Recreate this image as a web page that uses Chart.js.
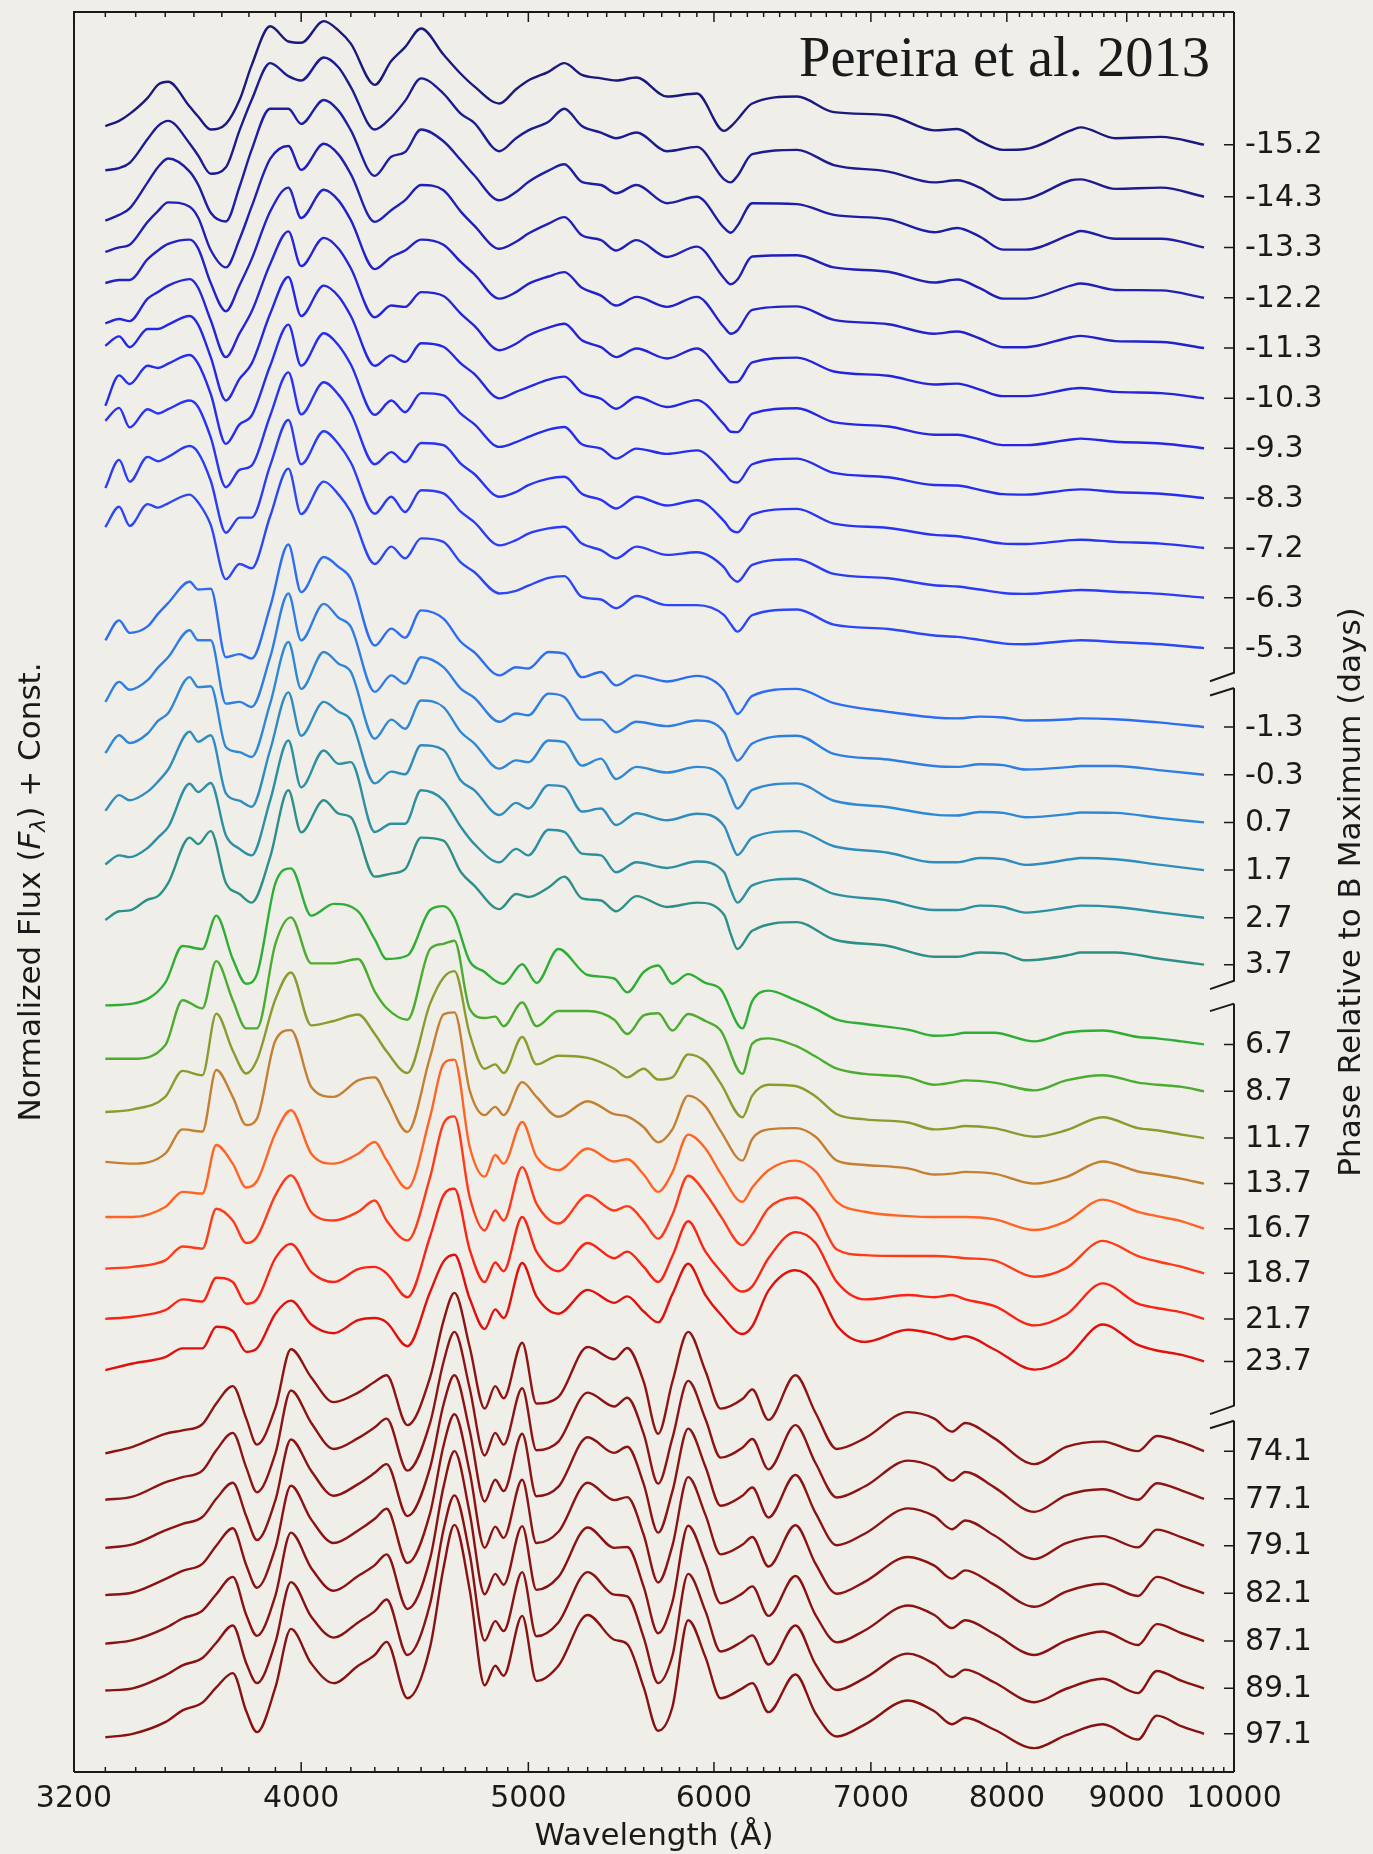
<!DOCTYPE html>
<html>
<head>
<meta charset="utf-8">
<title>SN 2011fe spectral time series</title>
<script src="https://cdn.jsdelivr.net/npm/chart.js@4.4.1/dist/chart.umd.min.js"></script>
<style>
  html, body { margin: 0; padding: 0; background: #f0eee9; }
  canvas { display: block; }
</style>
</head>
<body>
<canvas id="spectra" width="1373" height="1854"></canvas>
<script>
// ---- wavelength grids (Angstrom) ----
// early + near-max spectra
const waveEarly = [3300, 3345, 3380, 3440, 3475, 3510, 3585, 3615, 3660, 3715, 3765, 3810, 3880, 3950, 4000, 4090, 4150, 4200, 4300, 4370, 4430, 4500, 4600, 4680, 4740, 4860, 4940, 5000, 5100, 5180, 5270, 5370, 5450, 5560, 5730, 5900, 6060, 6100, 6140, 6230, 6510, 6750, 7120, 7450, 7620, 7790, 7970, 8150, 8520, 8600, 8900, 9310, 9710];
// post-max + nebular spectra
const waveLate = [3300, 3390, 3500, 3560, 3630, 3680, 3740, 3790, 3830, 3900, 3960, 4040, 4130, 4230, 4300, 4350, 4440, 4540, 4600, 4650, 4720, 4790, 4840, 4880, 4970, 5040, 5150, 5300, 5440, 5510, 5600, 5680, 5760, 5850, 5950, 6040, 6170, 6230, 6330, 6500, 6630, 6770, 6960, 7260, 7450, 7580, 7680, 7900, 8220, 8480, 8790, 9100, 9270, 9500, 9710];

// ---- phase labels (days relative to B max) ----
const phases = ['-15.2', '-14.3', '-13.3', '-12.2', '-11.3', '-10.3', '-9.3', '-8.3', '-7.2', '-6.3', '-5.3',
                '-1.3', '-0.3', '0.7', '1.7', '2.7', '3.7',
                '6.7', '8.7', '11.7', '13.7', '16.7', '18.7', '21.7', '23.7',
                '74.1', '77.1', '79.1', '82.1', '87.1', '89.1', '97.1'];

// vertical constant added to each spectrum
const offsets = [36.53, 35.33, 34.16, 33.00, 31.84, 30.68, 29.53, 28.38, 27.23, 26.08, 24.92,
                 23.10, 22.00, 20.90, 19.80, 18.70, 17.62,
                 15.78, 14.70, 13.62, 12.57, 11.53, 10.50, 9.45, 8.47,
                 6.40, 5.30, 4.22, 3.12, 2.02, 0.93, -0.12];

// ---- normalized flux, one array per epoch ----
const fluxM152 = [1.43,1.55,1.71,2.08,2.38,2.45,1.88,1.65,1.35,1.48,2.03,2.83,3.73,3.38,3.35,3.85,3.63,3.33,2.38,2.93,3.25,3.68,3.08,2.63,2.35,1.95,2.28,2.48,2.68,2.88,2.61,2.53,2.48,2.55,2.11,2.18,1.32,1.42,1.58,1.95,2.11,1.75,1.68,1.33,1.36,1.08,0.88,0.90,1.33,1.40,1.15,1.18,1.00];
const fluxM143 = [1.61,1.66,1.78,2.33,2.63,2.75,2.23,1.95,1.53,1.68,2.53,3.23,4.08,3.78,3.68,4.21,3.98,3.53,2.55,2.83,3.21,3.73,3.38,2.91,2.71,2.05,2.35,2.53,2.73,3.03,2.63,2.48,2.35,2.48,2.05,2.15,1.40,1.33,1.48,1.98,2.08,1.73,1.58,1.33,1.38,1.21,0.93,0.95,1.38,1.40,1.18,1.21,1.00];
const fluxM133 = [1.62,1.75,1.90,2.50,2.85,3.05,2.75,2.45,1.80,1.60,2.40,3.25,4.20,4.20,3.85,4.40,4.15,3.70,2.65,3.09,3.20,3.72,3.45,3.01,2.67,2.09,2.28,2.51,2.77,2.92,2.51,2.44,2.25,2.44,2.02,2.17,1.45,1.34,1.50,2.02,2.00,1.75,1.65,1.35,1.45,1.25,0.95,0.95,1.30,1.38,1.20,1.20,1.00];
const fluxM122 = [2.06,2.16,2.22,2.75,3.00,3.20,3.10,2.85,2.10,1.70,2.35,3.10,4.20,4.50,3.95,4.55,4.30,3.85,2.75,3.02,3.25,3.60,3.48,2.98,2.67,2.13,2.29,2.48,2.71,2.86,2.44,2.33,2.09,2.33,1.94,2.18,1.45,1.31,1.42,1.95,1.98,1.70,1.60,1.35,1.42,1.22,0.98,0.98,1.28,1.33,1.18,1.17,1.00];
const fluxM113 = [2.50,2.57,2.57,3.05,3.25,3.40,3.50,3.30,2.50,1.85,2.45,3.05,4.15,4.70,4.00,4.65,4.40,3.95,2.82,3.10,3.25,3.50,3.38,2.98,2.71,2.14,2.29,2.48,2.65,2.75,2.39,2.21,1.98,2.18,1.95,2.18,1.48,1.33,1.41,1.88,1.96,1.65,1.55,1.33,1.38,1.22,1.02,1.02,1.25,1.28,1.16,1.14,1.00];
const fluxM103 = [2.73,2.83,2.78,3.30,3.45,3.60,3.75,3.55,2.80,1.95,2.50,3.00,4.10,4.85,4.05,4.70,4.45,4.00,2.87,3.14,3.11,3.45,3.36,2.95,2.68,2.11,2.26,2.45,2.63,2.72,2.34,2.18,1.95,2.15,1.92,2.15,1.52,1.37,1.38,1.83,1.94,1.62,1.52,1.32,1.34,1.20,1.05,1.05,1.22,1.24,1.15,1.12,1.00];
const fluxM93 = [3.36,3.58,3.33,3.75,3.75,3.85,4.05,3.85,3.10,2.10,2.60,2.95,4.10,4.95,4.05,4.75,4.50,4.05,2.90,3.14,2.99,3.42,3.34,2.95,2.72,2.15,2.30,2.41,2.58,2.65,2.28,2.14,1.91,2.18,1.95,2.11,1.55,1.38,1.37,1.80,1.92,1.60,1.50,1.31,1.31,1.20,1.07,1.07,1.20,1.22,1.15,1.11,1.00];
const fluxM83 = [3.13,3.83,3.63,4.05,4.00,4.10,4.30,4.10,3.40,2.25,2.70,2.90,4.05,5.00,4.05,4.80,4.52,4.08,2.92,3.25,2.98,3.42,3.37,2.94,2.71,2.18,2.29,2.41,2.58,2.64,2.24,2.14,1.91,2.14,2.02,2.10,1.58,1.40,1.36,1.78,1.91,1.58,1.48,1.30,1.29,1.19,1.09,1.08,1.19,1.20,1.14,1.10,1.00];
const fluxM72 = [3.93,4.23,3.78,4.20,4.10,4.20,4.40,4.25,3.55,2.40,2.80,2.90,4.05,5.05,4.08,4.82,4.53,4.10,2.93,3.21,2.98,3.42,3.37,2.94,2.71,2.18,2.29,2.45,2.60,2.64,2.25,2.11,1.91,2.18,1.98,2.10,1.62,1.42,1.36,1.77,1.90,1.56,1.46,1.30,1.27,1.19,1.10,1.09,1.18,1.19,1.14,1.10,1.00];
const fluxM63 = [3.53,4.18,3.68,4.25,4.15,4.25,4.50,4.35,3.70,2.50,2.85,2.85,4.05,5.10,4.08,4.84,4.54,4.12,2.94,3.33,2.98,3.48,3.41,2.98,2.75,2.21,2.33,2.48,2.60,2.64,2.25,2.10,1.91,2.18,1.99,2.05,1.70,1.48,1.37,1.76,1.89,1.55,1.45,1.29,1.26,1.19,1.11,1.09,1.17,1.18,1.14,1.09,1.00];
const fluxM53 = [3.79,4.26,3.82,4.32,4.24,4.34,4.54,4.36,3.84,2.59,2.94,2.84,4.04,5.14,4.09,4.84,4.54,4.14,2.94,3.34,3.07,3.53,3.45,2.97,2.76,2.26,2.32,2.44,2.62,2.66,2.18,2.12,1.92,2.20,1.99,1.99,1.76,1.55,1.38,1.76,1.89,1.54,1.44,1.29,1.26,1.19,1.11,1.09,1.17,1.18,1.14,1.09,1.00];

const fluxM13 = [3.00,3.46,3.17,3.32,3.61,3.86,4.35,4.17,4.19,2.61,2.68,2.58,3.77,5.21,4.11,4.92,4.69,4.42,2.88,3.27,3.06,3.69,3.50,2.96,2.73,2.19,2.38,2.35,2.73,2.69,2.15,2.27,1.96,2.19,2.05,2.18,1.85,1.55,1.30,1.72,1.88,1.55,1.35,1.22,1.20,1.24,1.22,1.15,1.18,1.20,1.18,1.10,1.00];
const fluxM03 = [2.68,3.14,2.96,3.18,3.47,3.71,4.33,4.10,4.10,2.64,2.68,2.56,3.71,5.18,4.10,4.94,4.62,4.41,2.91,3.29,3.10,3.71,3.48,2.98,2.78,2.22,2.41,2.37,2.87,2.79,2.27,2.27,1.98,2.22,2.12,2.25,1.98,1.60,1.32,1.72,1.90,1.48,1.35,1.20,1.18,1.24,1.22,1.12,1.18,1.20,1.20,1.10,1.00];
const fluxP07 = [2.60,3.01,2.83,3.05,3.34,3.52,4.35,4.12,4.14,2.74,2.62,2.51,3.74,5.16,4.08,4.93,4.66,4.47,2.93,3.37,3.16,3.81,3.66,3.08,2.83,2.24,2.43,2.39,2.89,2.85,2.31,2.47,2.00,2.28,2.15,2.28,2.00,1.62,1.32,1.75,1.90,1.50,1.35,1.18,1.16,1.24,1.22,1.12,1.20,1.23,1.22,1.10,1.00];
const fluxP17 = [2.37,2.73,2.61,2.81,3.04,3.32,4.19,3.96,4.11,2.77,2.60,2.46,3.77,5.10,4.10,4.88,4.65,4.46,3.00,3.27,3.21,3.88,3.77,3.06,2.85,2.27,2.55,2.42,2.96,2.92,2.35,2.42,2.04,2.31,2.15,2.30,2.02,1.65,1.35,1.75,1.90,1.55,1.40,1.18,1.18,1.28,1.25,1.12,1.25,1.28,1.25,1.12,1.00];
const fluxP27 = [2.23,2.44,2.40,2.61,2.85,3.09,4.09,3.90,4.11,2.90,2.59,2.44,3.71,5.09,4.01,4.86,4.55,4.59,2.98,3.17,3.17,3.94,3.71,3.09,2.71,2.28,2.59,2.44,3.03,2.98,2.48,2.44,2.05,2.28,2.15,2.30,2.05,1.65,1.35,1.75,1.90,1.55,1.40,1.18,1.18,1.28,1.25,1.12,1.25,1.28,1.25,1.12,1.00];
const fluxP37 = [2.03,2.23,2.25,2.50,2.58,2.88,3.93,3.78,4.08,2.88,2.63,2.43,3.48,5.02,4.05,4.79,4.48,4.40,3.03,3.10,3.20,3.93,3.86,3.13,2.83,2.28,2.63,2.56,2.78,3.03,2.53,2.48,2.23,2.58,2.33,2.43,2.15,1.70,1.36,1.78,1.98,1.58,1.43,1.18,1.18,1.28,1.26,1.10,1.23,1.28,1.28,1.13,1.00];

const fluxP67 = [1.90,1.94,2.42,3.27,3.20,3.97,2.97,2.40,2.62,4.72,5.06,3.97,4.24,4.07,3.42,2.97,3.05,4.10,4.19,3.92,2.92,2.67,2.47,2.40,2.85,2.42,3.20,2.60,2.52,2.20,2.67,2.82,2.40,2.62,2.42,2.27,1.37,2.00,2.24,2.02,1.82,1.57,1.47,1.34,1.20,1.22,1.27,1.27,1.07,1.27,1.32,1.17,1.14,1.07,1.00];
const fluxP87 = [1.75,1.75,2.06,3.10,2.91,4.00,3.10,2.45,2.45,4.40,5.01,3.95,3.95,4.05,3.30,2.92,2.65,4.28,4.40,4.47,2.90,2.69,2.72,2.50,3.05,2.50,2.85,2.85,2.65,2.32,2.75,2.80,2.40,2.78,2.62,2.40,1.40,2.10,2.22,2.05,1.80,1.52,1.40,1.32,1.15,1.20,1.25,1.20,1.02,1.25,1.37,1.20,1.15,1.10,1.00];
const fluxP117 = [1.60,1.66,1.95,2.55,2.45,3.87,3.02,2.49,2.80,4.20,4.82,3.60,3.70,3.85,3.40,3.00,2.50,4.10,4.70,4.85,3.40,2.60,2.70,2.50,3.33,2.70,2.90,2.85,2.60,2.40,2.60,2.35,2.40,2.93,2.76,2.26,1.48,1.98,2.23,2.20,1.96,1.55,1.43,1.36,1.20,1.23,1.28,1.23,1.03,1.18,1.48,1.23,1.18,1.08,1.00];
const fluxP137 = [1.50,1.46,1.69,2.25,2.20,3.62,3.00,2.35,2.50,4.30,4.54,3.23,3.00,3.38,3.45,3.00,2.19,3.92,4.90,4.95,3.15,2.58,2.77,2.58,3.34,3.00,2.54,2.90,2.60,2.55,2.30,1.95,2.25,3.03,2.78,2.21,1.53,2.03,2.25,2.28,2.08,1.53,1.43,1.35,1.21,1.23,1.27,1.23,1.00,1.15,1.51,1.28,1.21,1.11,1.00];
const fluxP167 = [1.27,1.27,1.50,1.85,1.81,2.93,2.50,1.95,2.10,3.20,3.73,2.73,2.50,2.73,3.00,2.58,1.93,3.58,4.80,4.90,2.89,2.20,2.70,2.50,3.46,2.66,2.35,2.85,2.55,2.60,2.25,1.85,2.30,3.17,2.85,2.27,1.62,1.95,2.35,2.57,2.32,1.62,1.39,1.29,1.27,1.27,1.27,1.22,0.97,1.17,1.67,1.39,1.29,1.17,1.00];
const fluxP187 = [1.11,1.15,1.30,1.62,1.57,2.49,2.22,1.70,1.84,2.80,3.26,2.41,2.22,2.42,2.68,2.22,1.76,3.22,4.45,4.62,2.76,1.99,2.45,2.22,3.45,2.61,2.15,2.80,2.45,2.55,2.20,1.80,2.35,3.25,2.85,2.32,1.65,1.90,2.50,2.75,2.42,1.55,1.42,1.40,1.40,1.38,1.35,1.30,0.92,1.12,1.75,1.40,1.28,1.15,1.00];
const fluxP217 = [1.00,1.05,1.20,1.45,1.40,1.95,1.85,1.35,1.45,2.40,2.73,2.08,1.85,2.15,2.20,2.05,1.50,2.90,3.85,4.00,2.60,1.85,2.30,2.10,3.35,2.55,2.10,2.75,2.40,2.55,2.20,1.85,2.45,3.25,2.55,2.10,1.63,1.75,2.40,3.00,2.75,1.85,1.45,1.55,1.50,1.55,1.45,1.30,0.85,1.10,1.82,1.35,1.25,1.15,1.00];
const fluxP237 = [0.80,0.95,1.10,1.30,1.30,1.80,1.70,1.22,1.30,2.10,2.40,1.85,1.65,1.95,2.00,1.90,1.35,2.60,3.30,3.46,2.45,1.75,2.20,2.00,3.27,2.50,2.10,2.65,2.35,2.50,2.15,1.90,2.55,3.25,2.53,2.08,1.63,1.81,2.63,3.10,2.78,1.83,1.45,1.73,1.63,1.51,1.58,1.28,0.81,1.08,1.85,1.38,1.25,1.15,1.00];

const fluxP741 = [0.95,1.10,1.40,1.48,1.62,2.10,2.50,1.75,1.15,2.00,3.35,2.70,2.13,2.35,2.60,2.75,1.60,2.70,4.00,4.65,3.40,1.98,2.50,2.22,3.50,2.10,2.25,3.40,3.12,3.38,2.60,1.40,2.60,3.75,2.85,1.98,2.20,2.42,1.72,2.75,1.88,1.05,1.30,1.90,1.75,1.45,1.65,1.30,0.70,1.10,1.22,1.00,1.35,1.20,1.00];
const fluxP771 = [0.98,1.05,1.38,1.50,1.65,2.12,2.52,1.72,1.15,2.05,3.50,2.75,2.15,2.40,2.65,2.85,1.65,2.75,4.15,4.85,3.55,2.00,2.52,2.25,3.55,2.12,2.32,3.45,3.13,3.33,2.50,1.35,2.40,3.72,2.84,1.95,2.18,2.38,1.68,2.70,1.82,1.03,1.29,1.88,1.72,1.42,1.62,1.27,0.70,1.08,1.22,0.98,1.36,1.19,1.00];
const fluxP791 = [0.95,1.03,1.35,1.50,1.66,2.08,2.45,1.68,1.13,2.05,3.45,2.72,2.15,2.42,2.68,2.88,1.68,2.80,4.25,4.93,3.65,2.02,2.52,2.26,3.58,2.14,2.36,3.50,3.14,3.28,2.42,1.30,2.25,3.70,2.82,1.92,2.15,2.34,1.65,2.63,1.75,1.01,1.28,1.86,1.68,1.38,1.58,1.24,0.69,1.06,1.22,0.96,1.37,1.19,1.00];
const fluxP821 = [0.96,1.02,1.33,1.52,1.68,2.10,2.50,1.65,1.13,2.05,3.48,2.70,2.16,2.45,2.72,2.95,1.70,2.85,4.40,5.13,3.80,2.05,2.54,2.28,3.62,2.16,2.42,3.55,3.15,3.22,2.35,1.25,2.10,3.68,2.81,1.90,2.12,2.30,1.62,2.57,1.68,0.99,1.27,1.84,1.64,1.34,1.53,1.20,0.69,1.04,1.22,0.94,1.38,1.18,1.00];
const fluxP871 = [0.94,1.02,1.30,1.52,1.70,2.08,2.48,1.60,1.12,2.05,3.50,2.68,2.16,2.50,2.75,3.00,1.74,2.90,4.55,5.38,3.95,2.08,2.55,2.30,3.65,2.18,2.48,3.62,3.15,3.17,2.25,1.18,1.90,3.66,2.80,1.87,2.10,2.26,1.58,2.50,1.60,0.97,1.25,1.82,1.60,1.30,1.48,1.17,0.68,1.01,1.22,0.91,1.39,1.18,1.00];
const fluxP891 = [0.95,1.00,1.30,1.53,1.70,2.05,2.45,1.58,1.12,2.06,3.45,2.65,2.17,2.52,2.78,3.05,1.77,2.95,4.65,5.45,4.10,2.10,2.55,2.32,3.68,2.20,2.52,3.68,3.16,3.12,2.17,1.12,1.75,3.64,2.78,1.85,2.08,2.22,1.55,2.45,1.55,0.96,1.24,1.80,1.56,1.26,1.43,1.14,0.68,0.99,1.22,0.89,1.40,1.17,1.00];
const fluxP971 = [0.92,1.00,1.27,1.54,1.72,2.07,2.40,1.52,1.04,2.07,3.42,2.62,2.17,2.57,2.82,3.12,1.82,3.00,4.82,5.82,4.32,2.12,2.57,2.34,3.72,2.22,2.57,3.74,3.17,3.07,2.07,1.07,1.62,3.62,2.77,1.82,2.05,2.17,1.50,2.37,1.47,0.94,1.22,1.77,1.52,1.22,1.37,1.10,0.67,0.97,1.22,0.87,1.42,1.17,1.00];

const fluxes = [fluxM152, fluxM143, fluxM133, fluxM122, fluxM113, fluxM103, fluxM93, fluxM83, fluxM72, fluxM63, fluxM53,
                fluxM13, fluxM03, fluxP07, fluxP17, fluxP27, fluxP37,
                fluxP67, fluxP87, fluxP117, fluxP137, fluxP167, fluxP187, fluxP217, fluxP237,
                fluxP741, fluxP771, fluxP791, fluxP821, fluxP871, fluxP891, fluxP971];

// x ticks
const tickLabels = [3200, 4000, 5000, 6000, 7000, 8000, 9000, 10000];

// ---- styling ----
const lineColors = ['#1a1a7e', '#1c1c90', '#1e1ea4', '#2020b6', '#2222c8', '#2424d8', '#2428e4', '#262eee', '#2834f4', '#2a3cf6', '#2c48f4',
                    '#2d6ef0', '#2f7ee4', '#3088d4', '#2f8cbc', '#2c8fa2', '#2d9088',
                    '#2eae34', '#4cac30', '#8c9a2e', '#c48032', '#ff6424', '#ff3a18', '#fa2414', '#e0100c',
                    '#8e1414', '#8d1414', '#8c1313', '#8b1313', '#8a1212', '#891212', '#881111'];
const inkColor = '#1a1a1a';
const yTop = 40.59;
// where the right spine is broken (y units): [end of upper piece, start of lower piece]
const axisBreaks = [[25.35, 25.00], [18.25, 17.72], [8.45, 8.10]];

function waveFor(i) {
    return i < 17 ? waveEarly : waveLate;
}

// draws frame, ticks, labels and titles
const framePlugin = {
    id: 'frame',
    afterDraw(chart) {
        const { ctx, chartArea: a, scales: { x, y } } = chart;
        ctx.save();
        ctx.strokeStyle = inkColor;
        ctx.fillStyle = inkColor;
        ctx.lineWidth = 2;
        ctx.lineCap = 'butt';

        // left, top, bottom spines
        ctx.beginPath();
        ctx.moveTo(a.left, a.bottom);
        ctx.lineTo(a.left, a.top);
        ctx.lineTo(a.right, a.top);
        ctx.moveTo(a.left, a.bottom);
        ctx.lineTo(a.right, a.bottom);
        ctx.stroke();

        // right spine in pieces with break marks
        let segTop = a.top;
        ctx.beginPath();
        axisBreaks.forEach(([upper, lower]) => {
            const pu = y.getPixelForValue(upper);
            const pl = y.getPixelForValue(lower);
            ctx.moveTo(a.right, segTop);
            ctx.lineTo(a.right, pu);
            ctx.lineTo(a.right - 24, pu + 8.5);
            ctx.moveTo(a.right - 24, pl + 7.5);
            ctx.lineTo(a.right, pl);
            segTop = pl;
        });
        ctx.moveTo(a.right, segTop);
        ctx.lineTo(a.right, a.bottom);
        ctx.stroke();

        // wavelength ticks (minor every 100 A, on bottom and top)
        ctx.lineWidth = 1.5;
        ctx.beginPath();
        for (let w = 3200; w <= 10000; w += 100) {
            const px = x.getPixelForValue(w);
            const len = tickLabels.includes(w) ? 10 : 5;
            ctx.moveTo(px, a.bottom);
            ctx.lineTo(px, a.bottom - len);
            ctx.moveTo(px, a.top);
            ctx.lineTo(px, a.top + len);
        }
        // phase ticks on the right spine
        phases.forEach((p, i) => {
            const f = fluxes[i];
            const py = y.getPixelForValue(f[f.length - 1] + offsets[i]);
            ctx.moveTo(a.right - 10, py);
            ctx.lineTo(a.right, py);
        });
        ctx.stroke();

        // tick labels
        ctx.font = '30px "DejaVu Sans"';
        ctx.textAlign = 'center';
        ctx.textBaseline = 'top';
        tickLabels.forEach(w => {
            ctx.fillText(String(w), x.getPixelForValue(w), a.bottom + 12);
        });
        ctx.textAlign = 'left';
        ctx.textBaseline = 'middle';
        phases.forEach((p, i) => {
            const f = fluxes[i];
            const py = y.getPixelForValue(f[f.length - 1] + offsets[i]);
            ctx.fillText(p, a.right + 11, py + 1);
        });

        // x axis title
        ctx.font = '31px "DejaVu Sans"';
        ctx.textAlign = 'center';
        ctx.textBaseline = 'alphabetic';
        ctx.fillText('Wavelength (\u00C5)', (a.left + a.right) / 2, 1845);

        const midY = (a.top + a.bottom) / 2;

        // left title, with italic F and subscript lambda
        const size = 31;
        const parts = [
            { t: 'Normalized Flux (', f: `${size}px "DejaVu Sans"`, dy: 0 },
            { t: 'F', f: `italic ${size}px "DejaVu Sans"`, dy: 0 },
            { t: '\u03BB', f: `italic ${Math.round(size * 0.7)}px "DejaVu Sans"`, dy: size * 0.25 },
            { t: ') + Const.', f: `${size}px "DejaVu Sans"`, dy: 0 }
        ];
        let total = 0;
        parts.forEach(pt => { ctx.font = pt.f; pt.w = ctx.measureText(pt.t).width; total += pt.w; });
        ctx.save();
        ctx.translate(32, midY);
        ctx.rotate(-Math.PI / 2);
        ctx.textAlign = 'left';
        ctx.textBaseline = 'middle';
        let cx = -total / 2;
        parts.forEach(pt => {
            ctx.font = pt.f;
            ctx.fillText(pt.t, cx, pt.dy);
            cx += pt.w;
        });
        ctx.restore();

        // right title
        ctx.save();
        ctx.translate(1352, midY);
        ctx.rotate(-Math.PI / 2);
        ctx.font = '31px "DejaVu Sans"';
        ctx.textAlign = 'center';
        ctx.textBaseline = 'middle';
        ctx.fillText('Phase Relative to B Maximum (days)', 0, 0);
        ctx.restore();

        // citation in the corner, sized to the original's width
        const cite = 'Pereira et al. 2013';
        ctx.font = '50px "Liberation Serif"';
        const fs = 50 * 411 / ctx.measureText(cite).width;
        ctx.font = `${fs.toFixed(1)}px "Liberation Serif"`;
        ctx.textAlign = 'right';
        ctx.textBaseline = 'alphabetic';
        ctx.fillText(cite, 1210, 76);

        ctx.restore();
    }
};

function buildDatasets() {
    return phases.map((p, i) => {
        const wave = waveFor(i);
        if (wave.length !== fluxes[i].length) {
            console.warn('length mismatch for phase', p, wave.length, fluxes[i].length);
        }
        return {
            label: p,
            data: wave.map((w, j) => ({ x: w, y: fluxes[i][j] + offsets[i] })),
            borderColor: lineColors[i],
            borderWidth: 2.4,
            pointRadius: 0,
            fill: false,
            cubicInterpolationMode: 'monotone'
        };
    });
}

window.addEventListener('DOMContentLoaded', () => {
    const canvas = document.getElementById('spectra');
    new Chart(canvas.getContext('2d'), {
        type: 'line',
        data: { datasets: buildDatasets() },
        options: {
            responsive: false,
            animation: false,
            devicePixelRatio: 1,
            layout: { padding: { left: 74, right: 139, top: 12, bottom: 82 } },
            scales: {
                x: { type: 'logarithmic', min: 3200, max: 10000, display: false },
                y: { type: 'linear', min: 0, max: yTop, display: false }
            },
            plugins: { legend: { display: false }, tooltip: { enabled: false } }
        },
        plugins: [framePlugin]
    });
});
</script>
</body>
</html>
